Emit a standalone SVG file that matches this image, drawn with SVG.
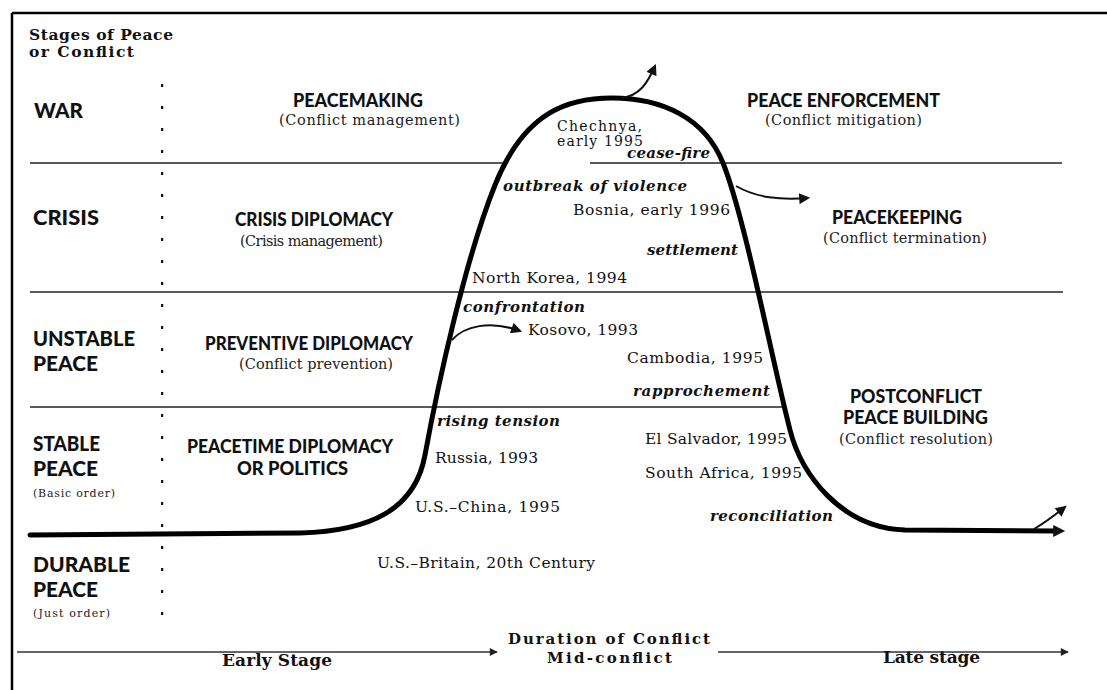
<svg xmlns="http://www.w3.org/2000/svg" width="1107" height="690" viewBox="0 0 1107 690">
<style>
.lbl{font-family:"Lato","Liberation Sans",sans-serif;font-weight:900;font-size:21px;fill:#111}
.hd{font-family:"Lato","Liberation Sans",sans-serif;font-weight:900;font-size:19px;fill:#111}
.sub{font-family:"DejaVu Serif","Liberation Serif",serif;font-size:14.5px;fill:#222}
.sm{font-family:"DejaVu Serif","Liberation Serif",serif;font-size:11px;fill:#222}
.case{font-family:"DejaVu Serif","Liberation Serif",serif;font-size:15.5px;fill:#111}
.case2{font-family:"DejaVu Serif","Liberation Serif",serif;font-size:14px;fill:#111}
.ev{font-family:"DejaVu Serif","Liberation Serif",serif;font-size:15px;font-weight:bold;font-style:italic;fill:#111}
.ttl{font-family:"DejaVu Serif","Liberation Serif",serif;font-size:15.5px;font-weight:bold;fill:#111}
.ax{font-family:"DejaVu Serif","Liberation Serif",serif;font-size:17px;font-weight:bold;fill:#111}
.axm{font-family:"DejaVu Serif","Liberation Serif",serif;font-size:15px;font-weight:bold;fill:#111}
.rule{stroke:#222;stroke-width:1.5;fill:none}
.thin{stroke:#111;stroke-width:2;fill:none}
.axis{stroke:#333;stroke-width:1.6;fill:none}
.dot{fill:#111}
</style>
<defs>
<marker id="ah" viewBox="0 0 10 10" refX="8" refY="5" markerWidth="13" markerHeight="11" markerUnits="userSpaceOnUse" orient="auto"><path d="M0,0 L10,5 L0,10 z" fill="#111"/></marker>
<marker id="ahBig" viewBox="0 0 10 10" refX="4" refY="5" markerWidth="16" markerHeight="12" markerUnits="userSpaceOnUse" orient="auto"><path d="M0,0 L10,5 L0,10 z" fill="#111"/></marker>
<marker id="ahAx" viewBox="0 0 10 10" refX="9" refY="5" markerWidth="12" markerHeight="8" markerUnits="userSpaceOnUse" orient="auto"><path d="M0,0 L10,5 L0,10 z" fill="#222"/></marker>
</defs>
<rect width="1107" height="690" fill="#fff"/>
<g id="frame" stroke="#000" stroke-width="2.5" fill="none">
<line x1="12" y1="13" x2="1107" y2="13"/>
<line x1="12" y1="13" x2="12" y2="690"/>
</g>
<g id="rules">
<line class="rule" x1="30" y1="163" x2="505" y2="163"/>
<line class="rule" x1="590" y1="163" x2="1062" y2="163"/>
<line class="rule" x1="30" y1="292" x2="1063" y2="292"/>
<line class="rule" x1="30" y1="407" x2="782" y2="407"/>
</g>
<g id="dots">
<rect class="dot" x="161" y="84" width="2.2" height="3"/><rect class="dot" x="161" y="106" width="2.2" height="3"/><rect class="dot" x="161" y="128" width="2.2" height="3"/><rect class="dot" x="161" y="150" width="2.2" height="3"/><rect class="dot" x="161" y="172" width="2.2" height="3"/><rect class="dot" x="161" y="194" width="2.2" height="3"/><rect class="dot" x="161" y="216" width="2.2" height="3"/><rect class="dot" x="161" y="238" width="2.2" height="3"/><rect class="dot" x="161" y="260" width="2.2" height="3"/><rect class="dot" x="161" y="282" width="2.2" height="3"/><rect class="dot" x="161" y="304" width="2.2" height="3"/><rect class="dot" x="161" y="326" width="2.2" height="3"/><rect class="dot" x="161" y="348" width="2.2" height="3"/><rect class="dot" x="161" y="370" width="2.2" height="3"/><rect class="dot" x="161" y="392" width="2.2" height="3"/><rect class="dot" x="161" y="414" width="2.2" height="3"/><rect class="dot" x="161" y="436" width="2.2" height="3"/><rect class="dot" x="161" y="458" width="2.2" height="3"/><rect class="dot" x="161" y="480" width="2.2" height="3"/><rect class="dot" x="161" y="502" width="2.2" height="3"/><rect class="dot" x="161" y="524" width="2.2" height="3"/><rect class="dot" x="161" y="546" width="2.2" height="3"/><rect class="dot" x="161" y="568" width="2.2" height="3"/><rect class="dot" x="161" y="590" width="2.2" height="3"/><rect class="dot" x="161" y="612" width="2.2" height="3"/>
</g>
<g id="connectors">
<path id="curve" d="M 30 535 L 300 533 C 370 531, 415 510, 425 455 C 438 384, 465 260, 495 185 C 525 110, 570 98, 612 98 C 662 98, 705 118, 723 163 C 745 218, 772 360, 790 430 C 801 473, 840 528, 905 530 L 1058 531" stroke="#000" stroke-width="5" fill="none" stroke-linecap="round" stroke-linejoin="round" marker-end="url(#ahBig)"/>
<path d="M 621 98 C 640 96, 648 82, 655 66" class="thin" marker-end="url(#ah)"/>
<path d="M 736 186 C 757 198, 780 200, 808 198" class="thin" marker-end="url(#ah)"/>
<path d="M 452 340 C 464 326, 490 320, 520 331" class="thin" marker-end="url(#ah)"/>
<path d="M 1034 529 C 1046 522, 1055 515, 1065 507" class="thin" marker-end="url(#ah)"/>
<path d="M 17 652 L 497 652" class="axis" marker-end="url(#ahAx)"/>
<path d="M 718 652 L 1068 652" class="axis" marker-end="url(#ahAx)"/>
</g>
<g id="title"><text class="ttl" x="29" y="40" textLength="144">Stages of Peace</text><text class="ttl" x="29" y="57" textLength="105">or Conflict</text></g>
<g id="stage-war"><text class="lbl" x="34" y="118" textLength="49" lengthAdjust="spacingAndGlyphs">WAR</text></g>
<g id="stage-crisis"><text class="lbl" x="33" y="225" textLength="66" lengthAdjust="spacingAndGlyphs">CRISIS</text></g>
<g id="stage-unstable"><text class="lbl" x="33" y="346" textLength="102" lengthAdjust="spacingAndGlyphs">UNSTABLE</text><text class="lbl" x="33" y="371" textLength="65" lengthAdjust="spacingAndGlyphs">PEACE</text></g>
<g id="stage-stable"><text class="lbl" x="33" y="451" textLength="67" lengthAdjust="spacingAndGlyphs">STABLE</text><text class="lbl" x="33" y="476" textLength="65" lengthAdjust="spacingAndGlyphs">PEACE</text><text class="sm" x="33" y="497" textLength="82">(Basic order)</text></g>
<g id="stage-durable"><text class="lbl" x="33" y="572" textLength="97" lengthAdjust="spacingAndGlyphs">DURABLE</text><text class="lbl" x="33" y="597" textLength="65" lengthAdjust="spacingAndGlyphs">PEACE</text><text class="sm" x="33" y="617" textLength="77">(Just order)</text></g>
<g id="peacemaking"><text class="hd" x="293" y="107" textLength="130" lengthAdjust="spacingAndGlyphs">PEACEMAKING</text><text class="sub" x="279" y="125" textLength="181">(Conflict management)</text></g>
<g id="crisis-diplomacy"><text class="hd" x="235" y="226" textLength="158" lengthAdjust="spacingAndGlyphs">CRISIS DIPLOMACY</text><text class="sub" x="240" y="246" textLength="143">(Crisis management)</text></g>
<g id="preventive-diplomacy"><text class="hd" x="205" y="350" textLength="208" lengthAdjust="spacingAndGlyphs">PREVENTIVE DIPLOMACY</text><text class="sub" x="239" y="369" textLength="154">(Conflict prevention)</text></g>
<g id="peacetime-diplomacy"><text class="hd" x="187" y="453" textLength="206" lengthAdjust="spacingAndGlyphs">PEACETIME DIPLOMACY</text><text class="hd" x="237" y="475" textLength="111" lengthAdjust="spacingAndGlyphs">OR POLITICS</text></g>
<g id="peace-enforcement"><text class="hd" x="747" y="107" textLength="193" lengthAdjust="spacingAndGlyphs">PEACE ENFORCEMENT</text><text class="sub" x="765" y="125" textLength="157">(Conflict mitigation)</text></g>
<g id="peacekeeping"><text class="hd" x="832" y="224" textLength="130" lengthAdjust="spacingAndGlyphs">PEACEKEEPING</text><text class="sub" x="823" y="243" textLength="164">(Conflict termination)</text></g>
<g id="peace-building"><text class="hd" x="850" y="403" textLength="132" lengthAdjust="spacingAndGlyphs">POSTCONFLICT</text><text class="hd" x="843" y="424" textLength="145" lengthAdjust="spacingAndGlyphs">PEACE BUILDING</text><text class="sub" x="839" y="444" textLength="154">(Conflict resolution)</text></g>
<g id="cases">
<text class="case2" x="557" y="131" textLength="85">Chechnya,</text>
<text class="case2" x="557" y="146" textLength="86">early 1995</text>
<text class="case" x="573" y="215" textLength="157">Bosnia, early 1996</text>
<text class="case" x="472" y="283" textLength="155">North Korea, 1994</text>
<text class="case" x="528" y="335" textLength="110">Kosovo, 1993</text>
<text class="case" x="627" y="363" textLength="136">Cambodia, 1995</text>
<text class="case" x="645" y="444" textLength="142">El Salvador, 1995</text>
<text class="case" x="435" y="463" textLength="103">Russia, 1993</text>
<text class="case" x="645" y="478" textLength="157">South Africa, 1995</text>
<text class="case" x="415" y="512" textLength="145">U.S.–China, 1995</text>
<text class="case" x="377" y="568" textLength="218">U.S.–Britain, 20th Century</text>
</g>
<g id="events">
<text class="ev" x="627" y="158" textLength="83">cease-fire</text>
<text class="ev" x="503" y="191" textLength="184">outbreak of violence</text>
<text class="ev" x="647" y="255" textLength="91">settlement</text>
<text class="ev" x="463" y="312" textLength="122">confrontation</text>
<text class="ev" x="633" y="396" textLength="137">rapprochement</text>
<text class="ev" x="437" y="426" textLength="123">rising tension</text>
<text class="ev" x="710" y="521" textLength="123">reconciliation</text>
</g>
<g id="axis-labels">
<text class="ax" x="222" y="666" textLength="110">Early Stage</text>
<text class="axm" x="508" y="644" textLength="202">Duration of Conflict</text>
<text class="axm" x="547" y="663" textLength="125">Mid-conflict</text>
<text class="ax" x="883" y="663" textLength="97">Late stage</text>
</g>
</svg>
